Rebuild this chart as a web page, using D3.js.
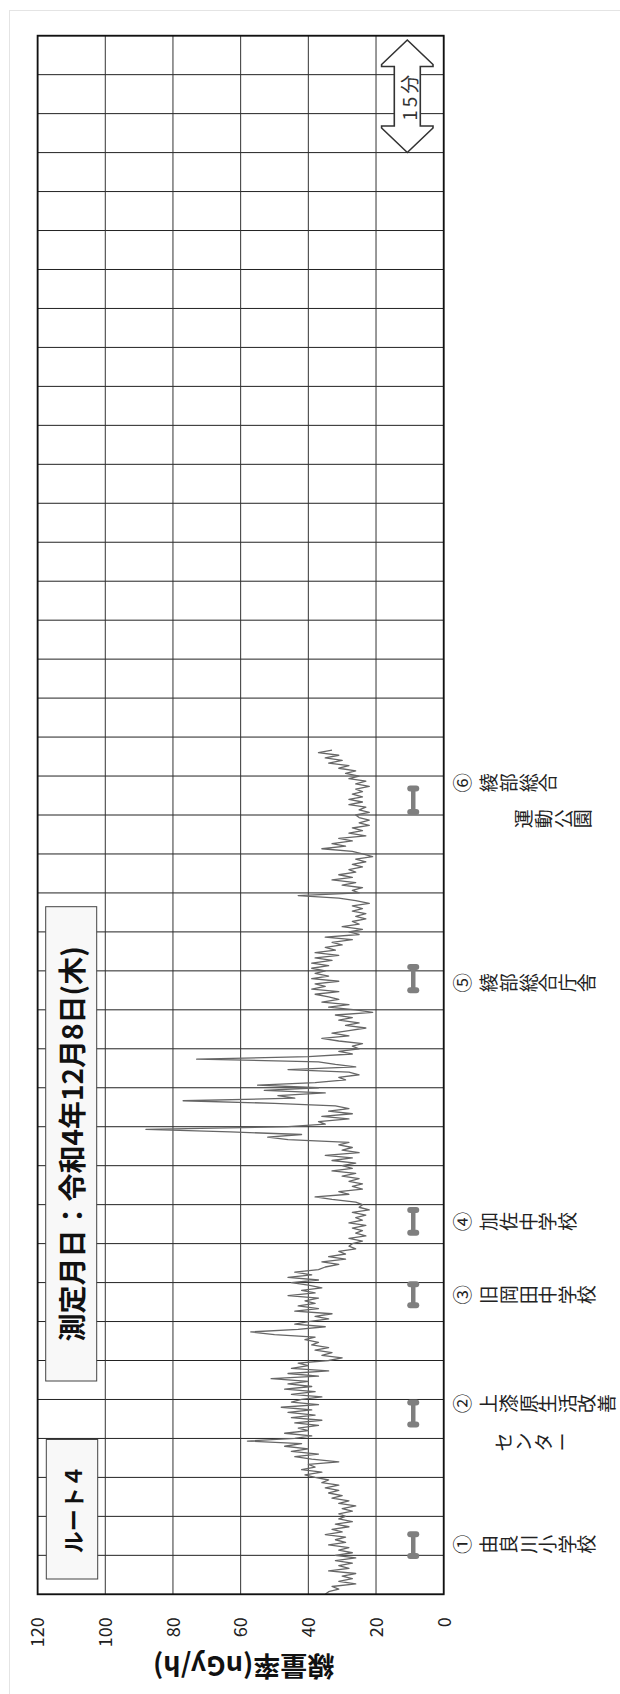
<!DOCTYPE html>
<html>
<head>
<meta charset="utf-8">
<script src="https://cdn.jsdelivr.net/npm/d3@7"></script>
<style>
  html, body { margin: 0; padding: 0; background: #fff; }
  svg { display: block; }
  text { font-family: "Noto Sans CJK JP", "Noto Sans", sans-serif; }
</style>
</head>
<body>
<svg id="chart" width="620" height="1694"></svg>
<script>
// ---- data -------------------------------------------------------------
const valueTicks = [0, 20, 40, 60, 80, 100, 120];   // nGy/h
const sampleMinutes = 1 / 3;                         // one reading every 20 s

// air dose rate along route 4 (nGy/h), one row per 5 minutes
const dose = [
  35,34,31,33,26,31,27,30,26,34,28,31,27,32,26,
  32,27,31,28,34,29,32,29,35,30,33,28,32,27,31,
  29,31,27,30,26,31,28,33,30,34,31,35,31,36,34,
  38,41,36,42,38,40,31,39,44,37,45,40,47,42,58,
  44,39,47,40,43,37,44,36,45,38,46,39,48,37,45,
  42,36,45,38,47,39,46,40,51,37,46,34,45,40,43,
  34,30,36,33,38,34,39,37,41,38,50,57,43,35,44,
  40,34,38,33,44,37,43,38,41,37,46,38,42,36,40,
  45,37,46,39,44,37,35,31,36,29,34,29,31,26,28,
  27,24,28,23,26,24,27,23,28,24,26,23,27,22,25,
  24,26,33,38,28,31,24,27,24,28,25,30,26,33,27,
  30,26,33,27,35,25,30,27,31,28,46,52,42,63,88,
  46,35,37,28,36,27,34,28,32,50,77,44,49,35,53,
  37,55,38,29,31,25,28,46,26,32,37,73,40,27,31,
  25,27,24,31,36,28,33,28,23,29,25,31,27,32,21,
  26,34,28,36,31,34,38,31,39,35,38,31,39,34,38,
  35,39,34,39,33,38,31,38,32,35,30,33,27,35,25,
  28,24,30,25,27,23,26,23,27,24,27,22,26,31,43,
  25,27,24,30,26,33,27,31,26,28,24,27,23,26,21,
  24,27,36,29,33,27,31,23,28,24,27,22,25,22,25,
  26,22,25,23,28,24,28,24,27,24,26,22,26,23,28,
  25,29,26,31,28,34,30,35,31,37,33
];

// measurement stops: number, name (first line / second line), start and end (minutes)
const stopNumbers = ["①", "②", "③", "④", "⑤", "⑥"];
const stopNames   = ["由良川小学校", "上漆原生活改善", "旧岡田中学校", "加佐中学校", "綾部総合庁舎", "綾部総合"];
const stopNames2  = ["", "センター", "", "", "", "運動公園"];
const stopStart   = [4.9, 21.8, 37.1, 46.4, 77.5, 100.4];
const stopEnd     = [7.7, 24.6, 39.8, 49.3, 80.5, 103.4];

const routeLabel = "ルート４";
const dateLabel  = "測定月日：令和4年12月8日(木)";
const axisTitle  = "線量率(nGy/h)";
const spanLabel  = "15分";

// ---- layout -----------------------------------------------------------
const plot = { left: 37.6, right: 443.7, top: 35.7, bottom: 1594.3 };
const totalMinutes = 200, rowMinutes = 5;
const markerLevel = 9;                      // nGy/h column where stop bars sit
const labelLine1Offset = [-1, -10, 0, 0, 4, -17.5];
const labelLine2Offset = [0, 28.5, 0, 0, 0, 18.5];
const labelLine2Start  = [0, 493, 0, 0, 0, 513];
const glyphStep = 19.6;

const svg = d3.select("#chart");

const x = d3.scaleLinear().domain([0, 120]).range([plot.right, plot.left]);
const y = d3.scaleLinear().domain([0, totalMinutes]).range([plot.bottom, plot.top]);

// outer frame
svg.append("rect")
  .attr("x", 9.5).attr("y", 10.5).attr("width", 700).attr("height", 1700)
  .attr("fill", "none").attr("stroke", "#e4e4e4").attr("stroke-width", 1);

// plot background
svg.append("rect")
  .attr("x", plot.left).attr("y", plot.top)
  .attr("width", plot.right - plot.left).attr("height", plot.bottom - plot.top)
  .attr("fill", "#fff");

// grid
const grid = svg.append("g");
grid.selectAll("line.h")
  .data(d3.range(0, totalMinutes + 0.001, rowMinutes))
  .join("line")
  .attr("class", "h")
  .attr("x1", plot.left).attr("x2", plot.right)
  .attr("y1", d => y(d)).attr("y2", d => y(d))
  .attr("stroke", "#222").attr("stroke-width", 1);
grid.selectAll("line.v")
  .data(valueTicks)
  .join("line")
  .attr("class", "v")
  .attr("x1", d => x(d)).attr("x2", d => x(d))
  .attr("y1", plot.top).attr("y2", plot.bottom)
  .attr("stroke", "#333").attr("stroke-width", 1);

// stop markers
const markers = svg.append("g").attr("fill", "#7f7f7f").attr("stroke", "#7f7f7f");
stopStart.forEach((s, i) => {
  const cx = x(markerLevel);
  markers.append("line")
    .attr("x1", cx).attr("x2", cx)
    .attr("y1", y(s)).attr("y2", y(stopEnd[i]))
    .attr("stroke-width", 4.5);
  [s, stopEnd[i]].forEach(t => {
    markers.append("rect")
      .attr("x", cx - 6).attr("y", y(t) - 3)
      .attr("width", 12).attr("height", 6).attr("rx", 3)
      .attr("stroke", "none");
  });
});

// dose-rate trace
const line = d3.line()
  .x(d => x(d))
  .y((d, i) => y(i * sampleMinutes));
svg.append("path")
  .datum(dose)
  .attr("d", line)
  .attr("fill", "none")
  .attr("stroke", "#666")
  .attr("stroke-width", 1.3)
  .attr("stroke-linejoin", "round");

// plot border
svg.append("rect")
  .attr("x", plot.left).attr("y", plot.top)
  .attr("width", plot.right - plot.left).attr("height", plot.bottom - plot.top)
  .attr("fill", "none").attr("stroke", "#111").attr("stroke-width", 1.8);

// value axis (rotated labels)
const axis = svg.append("g")
  .attr("transform", `translate(0,${plot.bottom + 23})`)
  .call(d3.axisBottom(x).tickValues(valueTicks).tickSize(0).tickPadding(0));
axis.select(".domain").remove();
axis.selectAll("text")
  .attr("x", 0).attr("y", 0).attr("dy", "0.35em")
  .attr("transform", "rotate(-90)")
  .attr("text-anchor", "end")
  .attr("fill", "#222")
  .style("font-size", "18px")
  .style("font-family", "\"Noto Sans CJK JP\", sans-serif");

// axis title (upside down)
svg.append("text")
  .attr("transform", `translate(${(plot.left + plot.right) / 2 + 3},1667) rotate(180)`)
  .attr("text-anchor", "middle")
  .attr("dominant-baseline", "central")
  .attr("font-weight", "bold")
  .attr("font-size", 27)
  .attr("fill", "#111")
  .text(axisTitle);

// glyph-by-glyph label, read left to right with each glyph turned
function turnedText(str, x0, yc, step, size, color) {
  const g = svg.append("g");
  Array.from(str).forEach((ch, i) => {
    g.append("text")
      .attr("transform", `translate(${x0 + i * step + step / 2},${yc}) rotate(-90)`)
      .attr("text-anchor", "middle")
      .attr("dominant-baseline", "central")
      .attr("font-size", size)
      .attr("fill", color)
      .text(ch);
  });
}

stopNumbers.forEach((n, i) => {
  const yc = y((stopStart[i] + stopEnd[i]) / 2);
  const y1 = yc + labelLine1Offset[i];
  turnedText(n, 451.5, y1, 20, 19.5, "#222");
  turnedText(stopNames[i], 478, y1, glyphStep, 19, "#222");
  if (stopNames2[i]) {
    turnedText(stopNames2[i], labelLine2Start[i], yc + labelLine2Offset[i], glyphStep, 19, "#222");
  }
});

// 15-minute span arrow
const ax = 407.3, aTop = 40, aBot = 152.5;
svg.append("path")
  .attr("d", `M${ax},${aTop} L${ax + 25.7},${aTop + 24.5} L${ax + 25.7},${aTop + 26.5} L${ax + 13},${aTop + 26.5}
              L${ax + 13},${aBot - 26.5} L${ax + 25.7},${aBot - 26.5} L${ax + 25.7},${aBot - 24.5} L${ax},${aBot}
              L${ax - 25.7},${aBot - 24.5} L${ax - 25.7},${aBot - 26.5} L${ax - 13},${aBot - 26.5}
              L${ax - 13},${aTop + 26.5} L${ax - 25.7},${aTop + 26.5} L${ax - 25.7},${aTop + 24.5} Z`)
  .attr("fill", "#fff").attr("stroke", "#333").attr("stroke-width", 1.6)
  .attr("stroke-linejoin", "miter");
svg.append("text")
  .attr("transform", `translate(${ax + 1},${(aTop + aBot) / 2}) rotate(-90)`)
  .attr("text-anchor", "middle")
  .attr("dominant-baseline", "central")
  .attr("font-size", 19)
  .attr("letter-spacing", 3)
  .attr("fill", "#333")
  .text(spanLabel);

// route and date boxes
function labelBox(bx, by, bw, bh, str, size) {
  svg.append("rect")
    .attr("x", bx).attr("y", by).attr("width", bw).attr("height", bh)
    .attr("fill", "#f8f8f8").attr("stroke", "#444").attr("stroke-width", 1);
  svg.append("text")
    .attr("transform", `translate(${bx + bw / 2},${by + bh / 2}) rotate(-90)`)
    .attr("text-anchor", "middle")
    .attr("dominant-baseline", "central")
    .attr("font-weight", "bold")
    .attr("font-size", size)
    .attr("fill", "#111")
    .text(str);
}
labelBox(46.3, 1439.5, 51.4, 139.5, routeLabel, 22);
labelBox(45.7, 906.7, 51, 474.3, dateLabel, 28);
</script>
</body>
</html>
